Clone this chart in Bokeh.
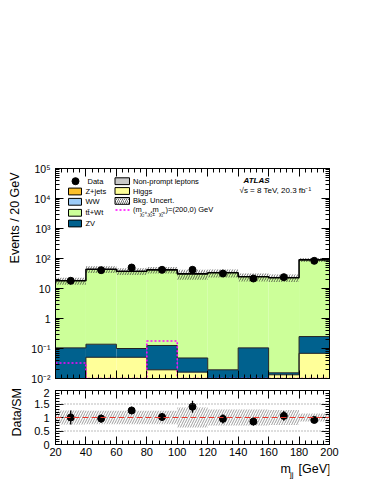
import numpy as np
from bokeh.plotting import figure
from bokeh.layouts import column
from bokeh.models import FixedTicker, LogAxis, LinearAxis, Label, Span, CustomJSTickFormatter
from bokeh.embed import file_html
from bokeh.resources import INLINE

# ---------------- data ----------------
bin_edges = [20, 40, 60, 80, 100, 120, 140, 160, 180, 200]
bin_centers = [30, 50, 70, 90, 110, 130, 150, 170, 190]
higgs = [0.0, 0.051, 0.051, 0.0195, 0.0163, 0.0, 0.0, 0.0133, 0.069]
zv = [0.105, 0.088, 0.049, 0.1065, 0.032, 0.0195, 0.105, 0.0022, 0.181]
ttbar_wt = [18.0, 43.9, 37.7, 41.8, 30.75, 33.3, 24.4, 22.7, 89.75]
data = [18.1, 40.8, 50.0, 42.0, 42.0, 31.6, 21.5, 23.9, 83.6]
data_err = [4.3, 6.4, 7.1, 6.5, 6.5, 5.6, 4.6, 4.9, 9.1]
bkg_unc_rel = [0.26, 0.25, 0.25, 0.25, 0.37, 0.30, 0.30, 0.28, 0.15]
signal = [0.033, 0.0, 0.0, 0.177, 0.0, 0.0, 0.0, 0.0, 0.0]
ratio = [1.00, 0.96, 1.26, 1.02, 1.40, 0.95, 0.85, 1.06, 0.91]
ratio_err = [0.26, 0.15, 0.14, 0.15, 0.22, 0.17, 0.15, 0.18, 0.11]

x_ticks = [20, 40, 60, 80, 100, 120, 140, 160, 180, 200]
y_ticks = [1e-2, 1e-1, 1.0, 10.0, 1e2, 1e3, 1e4, 1e5]
y_tick_labels = ["10\u207b\u00b2", "10\u207b\u00b9", "1", "10", "10\u00b2", "10\u00b3", "10\u2074", "10\u2075"]
r_ticks = [0.0, 0.5, 1.0, 1.5, 2.0]
r_tick_labels = ["0", "0.5", "1", "1.5", "2"]

legend_col1 = ["Z+jets", "WW", "tt\u0304+Wt", "ZV"]
legend_col1_colors = ["#fbc02d", "#9ccbf7", "#ccff99", "#00618e"]
legend_col2 = ["Non-prompt leptons", "Higgs"]
legend_col2_colors = ["#c8c8c8", "#ffff99"]

FONT = "Liberation Sans"
C_HIGGS = "#ffff99"
C_ZV = "#00618e"
C_TT = "#ccff99"

# ---------------- geometry helpers ----------------
FL, FW, FT, FH = 55, 274, 168, 210      # main frame (figure-relative)
XMIN, XMAX = 20, 200
page_left, page_top = 55, 168           # frame position on page
LAB_TOP, LAB_H = 461, 20                # x-label strip on page


def px2x(xp):
    return XMIN + (xp - page_left) * (XMAX - XMIN) / FW


def py2y(yp):
    return 10 ** (5 - (yp - page_top) * 7.0 / FH)


def py2l(yp):
    return 1 - (yp - LAB_TOP) / LAB_H


edges = np.array(bin_edges, dtype=float)
left, right = edges[:-1], edges[1:]
h = np.array(higgs)
z = np.array(zv)
t = np.array(ttbar_wt)
cum1 = h
cum2 = h + z
cum3 = h + z + t
u = np.array(bkg_unc_rel)
floor = 1e-4


def step_xy(vals):
    xs = np.repeat(edges, 2)[1:-1]
    ys = np.repeat(np.asarray(vals, dtype=float), 2)
    return xs, ys


def style_axis(ax, size, show_labels=True):
    ax.major_tick_in = 8
    ax.major_tick_out = 0
    ax.minor_tick_in = 4
    ax.minor_tick_out = 0
    ax.axis_line_color = "black"
    ax.major_tick_line_color = "black"
    ax.minor_tick_line_color = "black"
    ax.major_label_text_font = FONT
    ax.major_label_text_color = "black"
    ax.major_label_text_font_size = size
    ax.axis_label_text_font = FONT
    ax.axis_label_text_font_style = "normal"
    ax.axis_label_text_color = "black"
    ax.axis_label_text_font_size = "12.5px"
    if not show_labels:
        ax.formatter = CustomJSTickFormatter(code="return ''")
        ax.major_label_standoff = 0


x_ticker = FixedTicker(ticks=x_ticks, minor_ticks=list(range(20, 201, 4)))
y_minor = [m * 10.0 ** e for e in range(-2, 5) for m in range(2, 10)]
y_ticker = FixedTicker(ticks=y_ticks, minor_ticks=y_minor)

# ---------------- main figure ----------------
p = figure(frame_width=FW, frame_height=FH, y_axis_type="log",
           x_range=(XMIN, XMAX), y_range=(1e-2, 1e5),
           output_backend="svg", toolbar_location=None,
           min_border_left=FL, min_border_right=37,
           min_border_top=FT, min_border_bottom=10)
p.grid.visible = False
p.outline_line_color = "black"
p.background_fill_color = "white"
p.border_fill_color = "white"

p.xaxis.ticker = x_ticker
p.yaxis.ticker = y_ticker
p.yaxis.major_label_overrides = dict(zip(y_ticks, y_tick_labels))
style_axis(p.xaxis[0], "1px", show_labels=False)
style_axis(p.yaxis[0], "10.5px")
p.yaxis.major_label_standoff = 5
# padding (non-breaking spaces) pushes the label towards the top of the axis
p.yaxis.axis_label = "\u00a0" * 32 + "Events / 20 GeV"
p.yaxis.axis_label_standoff = 6
ax_top = LinearAxis(ticker=x_ticker)
style_axis(ax_top, "1px", show_labels=False)
p.add_layout(ax_top, "above")
ax_right = LogAxis(ticker=y_ticker)
style_axis(ax_right, "1px", show_labels=False)
p.add_layout(ax_right, "right")

# stacked histogram
p.quad(left=left, right=right, bottom=floor, top=np.where(cum1 > 0, cum1, floor),
       fill_color=C_HIGGS, line_alpha=0)
p.quad(left=left, right=right, bottom=np.where(cum1 > 0, cum1, floor), top=cum2,
       fill_color=C_ZV, line_alpha=0)
p.quad(left=left, right=right, bottom=cum2, top=cum3,
       fill_color=C_TT, line_alpha=0)
# uncertainty band
p.quad(left=left, right=right, bottom=cum3 * (1 - u), top=cum3 * (1 + u),
       fill_alpha=0, line_alpha=0, hatch_pattern="/", hatch_color="#333333",
       hatch_scale=5, hatch_weight=0.8, hatch_alpha=0.9)
# outlines
xs, ys = step_xy(np.where(cum1 > 0, cum1, floor))
p.line(xs, ys, line_color="#222222", line_width=1)
xs, ys = step_xy(cum2)
p.line(xs, ys, line_color="#222222", line_width=1)
xs, ys = step_xy(cum3)
p.line(xs, ys, line_color="black", line_width=1.6)
# signal
xs, ys = step_xy(np.where(np.array(signal) > 0, signal, 1e-2))
p.line(xs, ys, line_color="#ff00ff", line_width=1.6, line_dash="2 2")
# data
d = np.array(data)
de = np.array(data_err)
p.segment(x0=bin_centers, y0=d - de, x1=bin_centers, y1=d + de, line_color="black", line_width=1.3)
p.scatter(bin_centers, d, size=7, color="black")


def add_text(fig, x, y, text, size="7.5px", align="left", baseline="middle",
             style="normal"):
    fig.add_layout(Label(x=x, y=y, text=text, text_font=FONT, text_font_size=size,
                         text_align=align, text_baseline=baseline,
                         text_font_style=style, text_color="black"))


# title and labels
add_text(p, px2x(58), py2y(160), "SF channel  - Top CR for SR-Zjets", size="10px")
add_text(p, px2x(243), py2y(180), "ATLAS", size="8px", style="bold italic")
add_text(p, px2x(239), py2y(190), "\u221as = 8 TeV, 20.3 fb\u207b\u00b9", size="8px")

# legend column 1
p.scatter([px2x(75)], [py2y(180.7)], size=7, color="black")
add_text(p, px2x(87), py2y(180.7), "Data")
rows1 = [191.0, 201.3, 212.3, 223.0]
for lab_txt, col, yp in zip(legend_col1, legend_col1_colors, rows1):
    p.quad(left=[px2x(68)], right=[px2x(81)], bottom=[py2y(yp + 3.4)], top=[py2y(yp - 3.4)],
           fill_color=col, line_color="black", line_width=1)
    add_text(p, px2x(85), py2y(yp), lab_txt)
# legend column 2
rows2 = [180.7, 190.5]
for lab_txt, col, yp in zip(legend_col2, legend_col2_colors, rows2):
    p.quad(left=[px2x(114.5)], right=[px2x(129)], bottom=[py2y(yp + 3.4)], top=[py2y(yp - 3.4)],
           fill_color=col, line_color="black", line_width=1)
    add_text(p, px2x(132.5), py2y(yp), lab_txt)
p.quad(left=[px2x(114.5)], right=[px2x(129)], bottom=[py2y(203.8)], top=[py2y(197.0)],
       fill_color="white", line_color="black", line_width=1, hatch_pattern="/",
       hatch_color="#333333", hatch_scale=4, hatch_weight=0.7)
add_text(p, px2x(132.5), py2y(200.3), "Bkg. Uncert.")
p.line([px2x(115), px2x(129)], [py2y(209.5), py2y(209.5)], line_color="#ff00ff",
       line_width=1.6, line_dash="2 2")
add_text(p, px2x(132.5), py2y(208.5), "(m")
add_text(p, px2x(139.5), py2y(213.5), "\u03c7\u0303\u2082\u2070,\u03c7\u0303\u2081\u00b1", size="5px")
add_text(p, px2x(150), py2y(208.5), ",m")
add_text(p, px2x(158.5), py2y(213.5), "\u03c7\u0303\u2081\u2070", size="5px")
add_text(p, px2x(165), py2y(208.5), ")=(200,0) GeV")

# ---------------- ratio figure ----------------
r = figure(frame_width=FW, frame_height=54, x_range=p.x_range, y_range=(0, 2),
           output_backend="svg", toolbar_location=None,
           min_border_left=FL, min_border_right=37, min_border_top=2, min_border_bottom=17)
r.grid.visible = False
r.outline_line_color = "black"
r.background_fill_color = "white"
r.border_fill_color = "white"
r_ticker = FixedTicker(ticks=r_ticks, minor_ticks=[i * 0.1 for i in range(21)])
r.xaxis.ticker = x_ticker
r.yaxis.ticker = r_ticker
r.yaxis.major_label_overrides = dict(zip(r_ticks, r_tick_labels))
style_axis(r.xaxis[0], "11px")
style_axis(r.yaxis[0], "11px")
r.xaxis.major_label_standoff = 3
r.yaxis.major_label_standoff = 6
r.yaxis.axis_label = "\u00a0" * 3 + "Data/SM"
r.yaxis.axis_label_standoff = 7
r_top = LinearAxis(ticker=x_ticker)
style_axis(r_top, "1px", show_labels=False)
r.add_layout(r_top, "above")
r_right = LinearAxis(ticker=r_ticker)
style_axis(r_right, "1px", show_labels=False)
r.add_layout(r_right, "right")

r.quad(left=left, right=right, bottom=1 - u, top=1 + u,
       fill_alpha=0, line_alpha=0, hatch_pattern="/", hatch_color="#777777",
       hatch_scale=5, hatch_weight=0.8, hatch_alpha=0.9)
for lvl in (0.5, 1.5):
    r.add_layout(Span(location=lvl, dimension="width", line_color="#777777",
                      line_dash="1 2", line_width=1))
r.add_layout(Span(location=1.0, dimension="width", line_color="#e8352b",
                  line_dash="6 3", line_width=1))
rt = np.array(ratio)
rte = np.array(ratio_err)
r.segment(x0=bin_centers, y0=rt - rte, x1=bin_centers, y1=rt + rte, line_color="black", line_width=1.3)
r.scatter(bin_centers, rt, size=7, color="black")

# ---------------- x-axis title strip ----------------
lab = figure(frame_width=FW, frame_height=LAB_H, x_range=p.x_range, y_range=(0, 1),
             output_backend="svg", toolbar_location=None,
             min_border_left=FL, min_border_right=37, min_border_top=0, min_border_bottom=0)
lab.axis.visible = False
lab.grid.visible = False
lab.outline_line_color = None
lab.background_fill_color = "white"
lab.border_fill_color = "white"
add_text(lab, px2x(280), py2l(468.5), "m", size="12.5px")
add_text(lab, px2x(289.5), py2l(474), "jj", size="8px")
add_text(lab, px2x(298), py2l(468.5), "[GeV]", size="12.5px")

layout = column(p, r, lab, spacing=0)
open("out.html", "w").write(file_html(layout, INLINE))
